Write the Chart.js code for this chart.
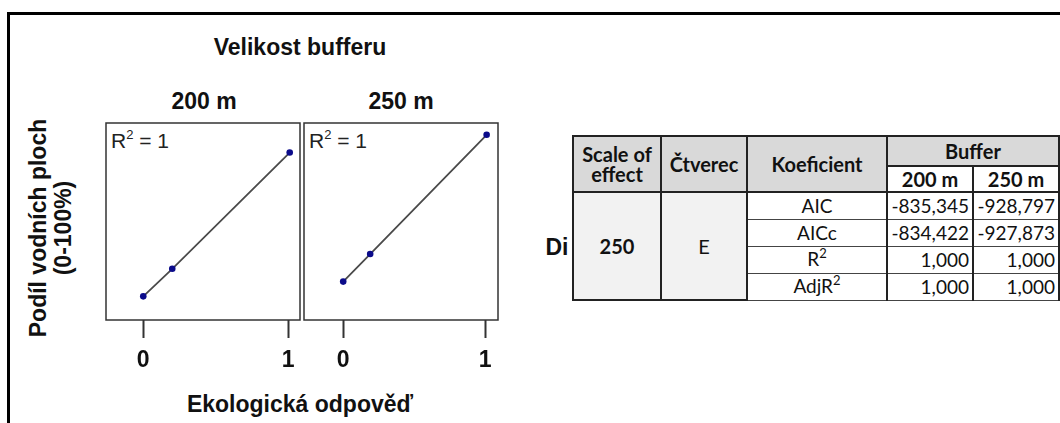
<!DOCTYPE html>
<html>
<head>
<meta charset="utf-8">
<script src="https://cdn.jsdelivr.net/npm/chart.js@4"></script>
<style>
  body { margin: 0; background: #fff; width: 1060px; height: 423px; overflow: hidden; position: relative; font-family: "Liberation Sans", Arial, sans-serif; }
  .frame { position: absolute; left: 7px; top: 12px; width: 1100px; height: 500px; border: 3px solid #000; }
  .t { position: absolute; font-weight: bold; font-size: 23px; color: #111; white-space: nowrap; transform: translate(-50%, -50%); }
  .r2 { position: absolute; font-size: 21px; color: #222; white-space: nowrap; }
  .r2 sup { font-size: 13px; vertical-align: 0; position: relative; top: -9px; }
  .ytitle { position: absolute; left: 51px; top: 228px; transform: translate(-50%, -50%) rotate(-90deg); font-weight: bold; font-size: 23px; color: #111; text-align: center; line-height: 25px; white-space: nowrap; }
  canvas { position: absolute; }
  table { position: absolute; left: 572px; top: 135px; border-collapse: collapse; table-layout: fixed; font-family: Lato, "Open Sans", sans-serif; font-size: 19px; color: #111; }
  td, th { border: 2px solid #222; padding: 0 3px; line-height: 20px; box-sizing: border-box; }
  th { background: #d9d9d9; font-weight: bold; font-size: 20px; }
  tr.body { height: 27px; }
  td.grp { background: #f2f2f2; font-weight: bold; text-align: center; font-size: 20px; }
  td.k { text-align: center; }
  td.n { text-align: right; }
  td.row { border-top: 1.5px solid #444; border-bottom: 1.5px solid #444; }
  sup { font-size: 13px; vertical-align: 0; position: relative; top: -8px; }
</style>
</head>
<body>
<div class="frame"></div>
<div class="t" style="left:300px; top:47px;">Velikost bufferu</div>
<div class="t" style="left:204px; top:101px;">200 m</div>
<div class="t" style="left:401px; top:101px;">250 m</div>
<div class="ytitle">Podíl vodních ploch<br>(0-100%)</div>
<div class="t" style="left:300px; top:404px;">Ekologická odpověď</div>
<div class="t" style="left:557px; top:247px;">Di</div>
<div class="r2" style="left:111px; top:129px;">R<sup>2</sup> = 1</div>
<div class="r2" style="left:309px; top:129px;">R<sup>2</sup> = 1</div>

<canvas id="chart200" width="202" height="263" style="left:102px; top:119px;"></canvas>
<canvas id="chart250" width="202" height="263" style="left:300px; top:119px;"></canvas>

<table id="tab"></table>

<script>
// hodnoty
const xTickLabels = ['0', '1'];
const xTickValues = [0, 1];
const ecoResponse200 = [0, 0.2, 1.01];
const waterShare200 = [12, 26, 85];
const ecoResponse250 = [0, 0.19, 1.01];
const waterShare250 = [19.5, 33.5, 94];

// tabulka
const scaleOfEffect = '250';
const ctverec = 'E';
const koeficienty = ['AIC', 'AICc', 'R<sup>2</sup>', 'AdjR<sup>2</sup>'];
const buffer200 = ['-835,345', '-834,422', '1,000', '1,000'];
const buffer250 = ['-928,797', '-927,873', '1,000', '1,000'];

const boxPlugin = {
  id: 'box',
  afterDraw(chart) {
    const a = chart.chartArea;
    const c = chart.ctx;
    c.save();
    c.strokeStyle = '#333';
    c.lineWidth = 1.5;
    c.strokeRect(a.left, a.top, a.right - a.left, a.bottom - a.top);
    c.restore();
  }
};

function panel(id, xs, ys, xmin, xmax) {
  const pts = xs.map((x, i) => ({x: x, y: ys[i]}));
  new Chart(document.getElementById(id), {
    type: 'scatter',
    data: {
      datasets: [{
        data: pts,
        showLine: true,
        borderColor: '#4a4a4a',
        borderWidth: 1.8,
        pointRadius: 3.3,
        pointBackgroundColor: '#0b0b8a',
        pointBorderColor: '#0b0b8a',
        pointBorderWidth: 0
      }]
    },
    options: {
      responsive: false,
      animation: false,
      layout: { padding: { left: 2, right: 2, top: 2, bottom: 0 } },
      plugins: { legend: { display: false }, tooltip: { enabled: false } },
      scales: {
        x: {
          type: 'linear',
          min: xmin,
          max: xmax,
          afterBuildTicks: s => { s.ticks = xTickValues.map(v => ({value: v})); },
          afterFit: s => { s.height = 62; },
          ticks: {
            callback: (v) => xTickLabels[xTickValues.indexOf(v)],
            font: { family: 'Liberation Sans', size: 23, weight: 'bold' },
            color: '#111',
            padding: 9,
            maxRotation: 0
          },
          grid: { drawOnChartArea: false, drawTicks: true, tickLength: 18, tickWidth: 2, tickColor: '#333' },
          border: { display: false }
        },
        y: { display: false, min: 0, max: 100 }
      }
    },
    plugins: [boxPlugin]
  });
}

panel('chart200', ecoResponse200, waterShare200, -0.257, 1.081);
panel('chart250', ecoResponse250, waterShare250, -0.276, 1.09);

let html = '<colgroup><col style="width:88px"><col style="width:86px"><col style="width:140px"><col style="width:86px"><col style="width:86px"></colgroup>' +
  '<tr style="height:30px"><th rowspan="2">Scale of<br>effect</th>' +
  '<th rowspan="2">Čtverec</th>' +
  '<th rowspan="2">Koeficient</th>' +
  '<th colspan="2">Buffer</th></tr>' +
  '<tr style="height:26px"><th style="background:#fff">200 m</th><th style="background:#fff">250 m</th></tr>';
koeficienty.forEach((k, i) => {
  html += '<tr class="body">';
  if (i === 0) {
    html += '<td class="grp" rowspan="4">' + scaleOfEffect + '</td><td class="grp" rowspan="4" style="font-weight:normal">' + ctverec + '</td>';
  }
  html += '<td class="k row">' + k + '</td><td class="n row">' + buffer200[i] + '</td><td class="n row">' + buffer250[i] + '</td></tr>';
});
document.getElementById('tab').innerHTML = html;
</script>
</body>
</html>
